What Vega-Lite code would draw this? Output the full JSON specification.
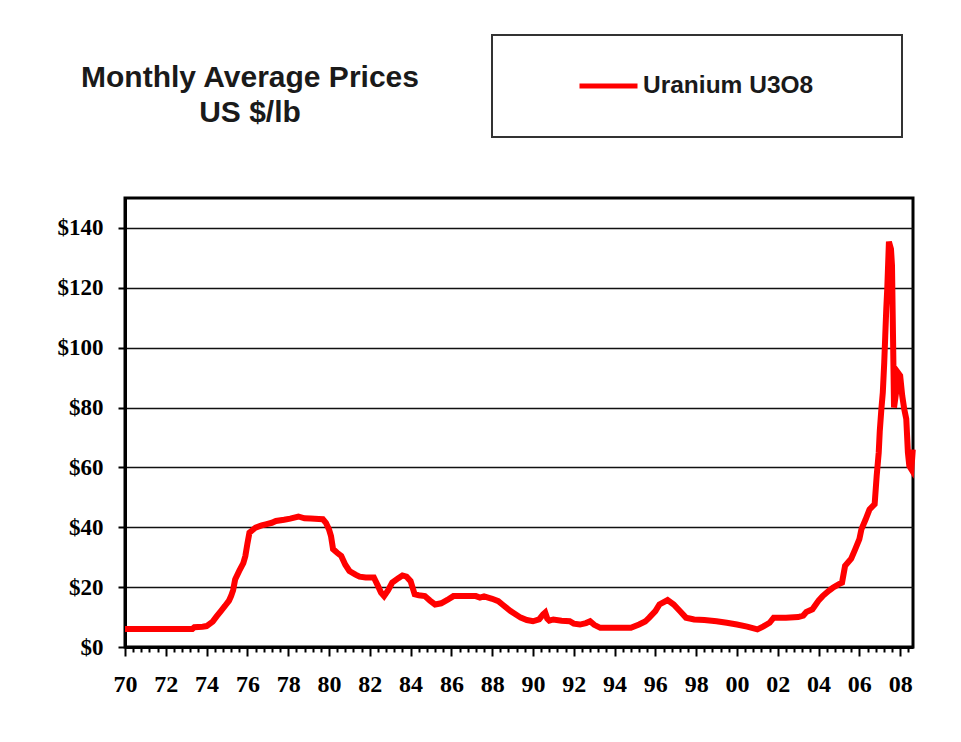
{
  "$schema": "https://vega.github.io/schema/vega-lite/v6.json",
  "width": 788,
  "height": 449,
  "autosize": "none",
  "padding": {"left": 125, "top": 198, "right": 48, "bottom": 95},
  "background": "white",
  "title": {
    "text": ["Monthly Average Prices", "US $/lb"],
    "orient": "top",
    "anchor": "start",
    "align": "center",
    "frame": "group",
    "dx": 125,
    "dy": 94,
    "offset": 0,
    "font": "Liberation Sans",
    "fontSize": 30,
    "fontWeight": "bold",
    "color": "#1a1a1a",
    "lineHeight": 35
  },
  "config": {
    "view": {"stroke": "black", "strokeWidth": 3},
    "axis": {
      "domainColor": "black",
      "domainWidth": 3,
      "tickColor": "black",
      "tickWidth": 2,
      "labelColor": "black",
      "labelFont": "Liberation Serif",
      "labelFontWeight": "bold",
      "labelFontSize": 22,
      "title": null
    },
    "legend": {
      "strokeColor": "#333333",
      "strokeWidth": 2,
      "fillColor": "white"
    }
  },
  "data": {
    "values": [
      {"year": 1970.0, "price": 6.0},
      {"year": 1970.5, "price": 6.0},
      {"year": 1971.0, "price": 6.0},
      {"year": 1971.5, "price": 6.0},
      {"year": 1972.0, "price": 6.0},
      {"year": 1972.5, "price": 6.0},
      {"year": 1973.0, "price": 6.0},
      {"year": 1973.3, "price": 6.0},
      {"year": 1973.4, "price": 6.6},
      {"year": 1973.8, "price": 6.8},
      {"year": 1974.0, "price": 7.0},
      {"year": 1974.3, "price": 8.5},
      {"year": 1974.5, "price": 10.3},
      {"year": 1974.7, "price": 12.0},
      {"year": 1974.9, "price": 13.7},
      {"year": 1975.1, "price": 15.5},
      {"year": 1975.2, "price": 17.0},
      {"year": 1975.3, "price": 19.0},
      {"year": 1975.4, "price": 22.6},
      {"year": 1975.6, "price": 25.4},
      {"year": 1975.8, "price": 28.0},
      {"year": 1975.9, "price": 30.4},
      {"year": 1976.0, "price": 34.5},
      {"year": 1976.1, "price": 38.2},
      {"year": 1976.4, "price": 39.9},
      {"year": 1976.7, "price": 40.6},
      {"year": 1976.9, "price": 41.0},
      {"year": 1977.2, "price": 41.5},
      {"year": 1977.4, "price": 42.1},
      {"year": 1977.8, "price": 42.5},
      {"year": 1978.1, "price": 42.9},
      {"year": 1978.5, "price": 43.6},
      {"year": 1978.8, "price": 43.0},
      {"year": 1979.1, "price": 42.9},
      {"year": 1979.5, "price": 42.8},
      {"year": 1979.7, "price": 42.7},
      {"year": 1979.85, "price": 41.5},
      {"year": 1980.0, "price": 39.3},
      {"year": 1980.1, "price": 37.0},
      {"year": 1980.2, "price": 32.7},
      {"year": 1980.4, "price": 31.5},
      {"year": 1980.6, "price": 30.4},
      {"year": 1980.8, "price": 27.5},
      {"year": 1981.0, "price": 25.4},
      {"year": 1981.3, "price": 24.2},
      {"year": 1981.5, "price": 23.5},
      {"year": 1981.8, "price": 23.2},
      {"year": 1982.2, "price": 23.2},
      {"year": 1982.4, "price": 20.4},
      {"year": 1982.55, "price": 18.2},
      {"year": 1982.7, "price": 17.0},
      {"year": 1982.9, "price": 19.0},
      {"year": 1983.1, "price": 21.5},
      {"year": 1983.4, "price": 23.0},
      {"year": 1983.6, "price": 23.9},
      {"year": 1983.8, "price": 23.5},
      {"year": 1984.0, "price": 22.0},
      {"year": 1984.2, "price": 17.6},
      {"year": 1984.4, "price": 17.3},
      {"year": 1984.7, "price": 17.0},
      {"year": 1984.95, "price": 15.5},
      {"year": 1985.2, "price": 14.2},
      {"year": 1985.5, "price": 14.6},
      {"year": 1985.8, "price": 15.7},
      {"year": 1986.1, "price": 17.0},
      {"year": 1986.7, "price": 17.0},
      {"year": 1987.2, "price": 17.0},
      {"year": 1987.4, "price": 16.5},
      {"year": 1987.6, "price": 16.9},
      {"year": 1988.0, "price": 16.1},
      {"year": 1988.3, "price": 15.3},
      {"year": 1988.5, "price": 14.2},
      {"year": 1988.9, "price": 12.0},
      {"year": 1989.4, "price": 9.8},
      {"year": 1989.7, "price": 9.0},
      {"year": 1990.0, "price": 8.6},
      {"year": 1990.3, "price": 9.2},
      {"year": 1990.5, "price": 10.9},
      {"year": 1990.6, "price": 11.5},
      {"year": 1990.7, "price": 9.5},
      {"year": 1990.8, "price": 8.8},
      {"year": 1991.0, "price": 9.2},
      {"year": 1991.4, "price": 8.8},
      {"year": 1991.8, "price": 8.6},
      {"year": 1992.0, "price": 7.8},
      {"year": 1992.3, "price": 7.5},
      {"year": 1992.6, "price": 8.0},
      {"year": 1992.8, "price": 8.6},
      {"year": 1993.0, "price": 7.4},
      {"year": 1993.3, "price": 6.4},
      {"year": 1994.0, "price": 6.4},
      {"year": 1994.8, "price": 6.4},
      {"year": 1995.2, "price": 7.5},
      {"year": 1995.5, "price": 8.5},
      {"year": 1995.7, "price": 9.8},
      {"year": 1996.0, "price": 12.0},
      {"year": 1996.2, "price": 14.2},
      {"year": 1996.6, "price": 15.7},
      {"year": 1996.9, "price": 14.2},
      {"year": 1997.2, "price": 12.0},
      {"year": 1997.5, "price": 9.8},
      {"year": 1997.9, "price": 9.2},
      {"year": 1998.4, "price": 9.0},
      {"year": 1999.0, "price": 8.6},
      {"year": 1999.5, "price": 8.1},
      {"year": 2000.0, "price": 7.5},
      {"year": 2000.5, "price": 6.8},
      {"year": 2001.0, "price": 5.9},
      {"year": 2001.3, "price": 6.9},
      {"year": 2001.6, "price": 8.1},
      {"year": 2001.8, "price": 9.8},
      {"year": 2002.4, "price": 9.8},
      {"year": 2003.0, "price": 10.0},
      {"year": 2003.25, "price": 10.5},
      {"year": 2003.4, "price": 11.7},
      {"year": 2003.7, "price": 12.6},
      {"year": 2004.0, "price": 15.5},
      {"year": 2004.2, "price": 17.0},
      {"year": 2004.5, "price": 18.8},
      {"year": 2004.7, "price": 19.8},
      {"year": 2005.0, "price": 21.0},
      {"year": 2005.15, "price": 21.5},
      {"year": 2005.3, "price": 27.1},
      {"year": 2005.6, "price": 29.5},
      {"year": 2005.8, "price": 32.7},
      {"year": 2006.0, "price": 36.0},
      {"year": 2006.1, "price": 39.3},
      {"year": 2006.3, "price": 42.5},
      {"year": 2006.5, "price": 46.0},
      {"year": 2006.75, "price": 47.7},
      {"year": 2006.85, "price": 57.2},
      {"year": 2006.95, "price": 65.0},
      {"year": 2007.0, "price": 72.0},
      {"year": 2007.08, "price": 79.5},
      {"year": 2007.15, "price": 85.0},
      {"year": 2007.22, "price": 95.0},
      {"year": 2007.27, "price": 104.0},
      {"year": 2007.32, "price": 113.0},
      {"year": 2007.37, "price": 120.0},
      {"year": 2007.45, "price": 135.4},
      {"year": 2007.55, "price": 133.0},
      {"year": 2007.6, "price": 127.5},
      {"year": 2007.65, "price": 104.0},
      {"year": 2007.7, "price": 80.0},
      {"year": 2007.8, "price": 85.0},
      {"year": 2007.88, "price": 91.8},
      {"year": 2008.0, "price": 90.7},
      {"year": 2008.1, "price": 84.0},
      {"year": 2008.2, "price": 79.5},
      {"year": 2008.3, "price": 76.2},
      {"year": 2008.38, "price": 65.0},
      {"year": 2008.45, "price": 60.5},
      {"year": 2008.55, "price": 59.4},
      {"year": 2008.62, "price": 66.0}
    ]
  },
  "mark": {"type": "line", "strokeWidth": 6, "interpolate": "linear"},
  "encoding": {
    "x": {
      "field": "year",
      "type": "quantitative",
      "scale": {"domain": [1970, 2008.63], "nice": false, "zero": false},
      "axis": {
        "values": [1970,1970.4,1970.8,1971.2,1971.6,1972,1972.4,1972.8,1973.2,1973.6,1974,1974.4,1974.8,1975.2,1975.6,1976,1976.4,1976.8,1977.2,1977.6,1978,1978.4,1978.8,1979.2,1979.6,1980,1980.4,1980.8,1981.2,1981.6,1982,1982.4,1982.8,1983.2,1983.6,1984,1984.4,1984.8,1985.2,1985.6,1986,1986.4,1986.8,1987.2,1987.6,1988,1988.4,1988.8,1989.2,1989.6,1990,1990.4,1990.8,1991.2,1991.6,1992,1992.4,1992.8,1993.2,1993.6,1994,1994.4,1994.8,1995.2,1995.6,1996,1996.4,1996.8,1997.2,1997.6,1998,1998.4,1998.8,1999.2,1999.6,2000,2000.4,2000.8,2001.2,2001.6,2002,2002.4,2002.8,2003.2,2003.6,2004,2004.4,2004.8,2005.2,2005.6,2006,2006.4,2006.8,2007.2,2007.6,2008,2008.4],
        "labelExpr": "datum.value % 2 === 0 ? slice(toString(datum.value), 2) : ''",
        "labelOverlap": false,
        "labelFlush": false,
        "labelFontSize": 24,
        "labelPadding": 16,
        "grid": false,
        "tickSize": {"condition": {"test": "datum.value % 2 === 0", "value": 9}, "value": 5}
      }
    },
    "y": {
      "field": "price",
      "type": "quantitative",
      "scale": {"domain": [0, 150], "nice": false},
      "axis": {
        "values": [0, 20, 40, 60, 80, 100, 120, 140],
        "labelExpr": "'$' + datum.value",
        "tickSize": 7,
        "labelPadding": 15,
        "labelFontSize": 23,
        "grid": true,
        "gridColor": "#111111",
        "gridWidth": 1.5
      }
    },
    "color": {
      "datum": "Uranium U3O8",
      "scale": {"range": ["#ff0000"]},
      "legend": {
        "title": null,
        "orient": "none",
        "legendX": 367,
        "legendY": -163,
        "symbolType": "stroke",
        "symbolStrokeWidth": 5,
        "symbolSize": 3364,
        "labelFont": "Liberation Sans",
        "labelFontSize": 24.5,
        "labelFontWeight": "bold",
        "labelColor": "#1a1a1a",
        "labelOffset": 3,
        "labelLimit": 400,
        "padding": 20,
        "clipHeight": 62,
        "symbolOffset": 65,
        "labelExpr": "datum.label + '          \u200b'"
      }
    }
  }
}
